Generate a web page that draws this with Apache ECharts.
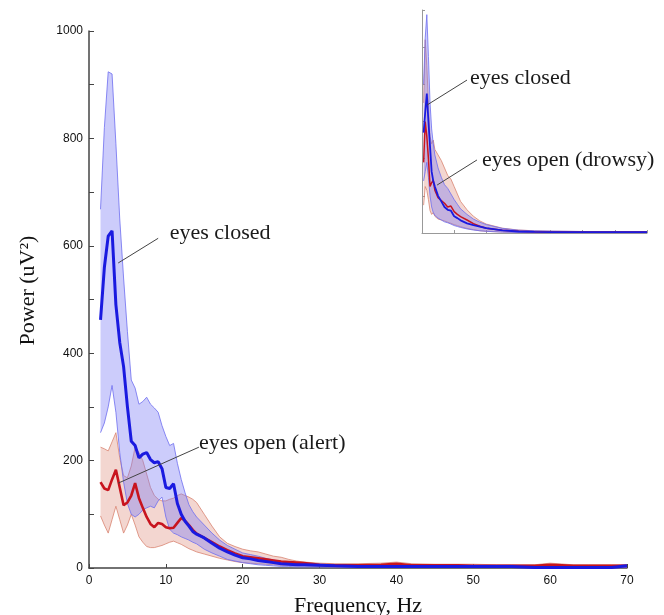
<!DOCTYPE html>
<html>
<head>
<meta charset="utf-8">
<script src="https://cdn.jsdelivr.net/npm/echarts@6/dist/echarts.min.js"></script>
<style>
html, body { margin: 0; padding: 0; background: #fff; }
#chart { width: 664px; height: 615px; }
</style>
</head>
<body>
<div id="chart"></div>
<script>
// main panel: eyes closed vs eyes open (alert)
var freq = [1.5, 2, 2.5, 3, 3.5, 4, 4.5, 5, 5.5, 6, 6.5, 7, 7.5, 8, 8.5, 9, 9.5, 10, 10.5, 11, 11.5, 12, 12.5, 13, 13.5, 14,
    15, 16, 17, 18, 19, 20, 21, 22, 23, 24, 25, 26, 27, 28,
    30, 32, 35, 38, 40, 42, 45, 48, 50, 53, 55, 58, 60, 63, 65, 68, 70];

var closedMean = [462, 560, 618, 628, 490, 420, 375, 300, 236, 228, 205, 212, 215, 202, 196, 198, 185, 150, 148, 157, 120, 100, 87, 78, 68, 63,
    56, 46, 37, 30, 24, 19, 17, 14, 12, 10, 8, 7, 6, 6,
    5, 4, 3, 3, 3, 3, 3, 3, 3, 3, 3, 1, 1, 1, 1, 1, 4];
var closedHigh = [668, 820, 924, 920, 790, 650, 540, 440, 350, 335, 305, 310, 318, 305, 298, 290, 265, 245, 228, 232, 195, 165, 140, 118, 105, 95,
    80, 65, 52, 42, 35, 28, 25, 22, 18, 15, 12, 10, 9, 8,
    7, 6, 5, 5, 5, 5, 5, 5, 5, 5, 5, 4, 4, 4, 4, 4, 6];
var closedLow = [252, 270, 300, 340, 290, 215, 160, 120, 100, 95, 100, 108, 112, 115, 112, 125, 132, 95, 72, 65, 62, 58, 55, 52, 48, 45,
    35, 28, 22, 16, 13, 10, 8, 6, 5, 4, 3, 3, 2, 2,
    2, 2, 1, 1, 1, 1, 1, 1, 1, 1, 1, 0, 0, 0, 0, 0, 1];

var alertMean = [160, 148, 145, 165, 183, 150, 117, 122, 135, 158, 130, 112, 95, 82, 76, 84, 82, 76, 74, 75, 84, 93, 88, 80, 71, 64,
    56, 48, 40, 33, 27, 22, 20, 18, 16, 14, 12, 11, 10, 9,
    6, 5, 5, 6, 8, 5, 5, 5, 4, 4, 4, 4, 6, 4, 4, 4, 4];
var alertHigh = [225, 222, 218, 235, 252, 205, 172, 168, 190, 225, 215, 200, 175, 150, 135, 128, 125, 125, 128, 130, 135, 138, 135, 132, 128, 122,
    100, 78, 58, 46, 40, 35, 32, 30, 26, 22, 20, 16, 13, 11,
    9, 8, 8, 9, 11, 8, 7, 7, 7, 6, 6, 6, 9, 6, 6, 6, 6];
var alertLow = [97, 80, 65, 90, 115, 90, 65, 80, 100, 80, 58, 48, 40, 38, 38, 40, 42, 45, 48, 50, 47, 44, 40, 36, 33, 30,
    26, 22, 18, 15, 12, 10, 9, 8, 7, 6, 5, 5, 4, 4,
    3, 2, 2, 2, 3, 2, 2, 2, 2, 2, 2, 2, 3, 2, 2, 2, 2];

// inset: eyes closed vs eyes open (drowsy)
var insetFreq = [0.5, 1, 1.5, 2, 2.5, 3, 3.5, 4, 5, 6, 7, 8, 9, 10, 11, 12, 14, 16, 18, 20, 25, 30, 35, 40, 50, 60, 70];
var insetClosedMean = [540, 650, 750, 600, 465, 330, 280, 250, 200, 170, 140, 125, 120, 90, 80, 68, 52, 42, 34, 26, 14, 8, 6, 5, 5, 5, 5];
var insetClosedHigh = [800, 1050, 1175, 950, 700, 560, 480, 420, 350, 300, 260, 240, 210, 180, 155, 130, 100, 75, 58, 45, 25, 15, 12, 10, 8, 8, 8];
var insetClosedLow = [280, 330, 380, 300, 200, 140, 110, 95, 80, 70, 60, 55, 48, 40, 35, 30, 22, 16, 12, 9, 5, 3, 2, 2, 2, 2, 2];
var insetDrowsyMean = [380, 600, 520, 400, 250, 270, 285, 230, 190, 175, 160, 140, 145, 115, 100, 88, 70, 50, 36, 26, 15, 9, 7, 6, 5, 5, 5];
var insetDrowsyHigh = [700, 1040, 900, 700, 520, 480, 500, 450, 420, 390, 350, 310, 290, 250, 210, 170, 125, 90, 65, 48, 26, 16, 12, 10, 8, 8, 8];
var insetDrowsyLow = [150, 250, 230, 180, 120, 100, 110, 90, 75, 70, 65, 58, 52, 45, 40, 34, 25, 18, 12, 9, 5, 3, 2, 2, 2, 2, 2];

// annotations, anchored in data coords: [grid, text, line start, line end, text anchor]
var notes = [
    [0, 'eyes closed', [3.8, 568], [9.0, 614], [10.5, 624]],
    [0, 'eyes open (alert)', [3.8, 158], [14.3, 225], [14.3, 233]],
    [1, 'eyes closed', [1.6, 689], [14.0, 823], [14.9, 834]],
    [1, 'eyes open (drowsy)', [4.7, 258], [17.1, 393], [18.7, 393]]
];

var BLUE = '#1a1ae0';
var RED = '#c8141e';
var serif = '"Liberation Serif", "Times New Roman", serif';

function pairs(xs, ys) {
    return xs.map(function (x, i) { return [x, ys[i]]; });
}

// shaded band between lo and hi, drawn once as a polygon through the axes
function band(grid, xs, lo, hi, edge, fill) {
    return {
        type: 'custom', xAxisIndex: grid, yAxisIndex: grid, silent: true, z: 1,
        data: xs.map(function (x, i) { return [x, lo[i], hi[i]]; }),
        encode: { x: 0, y: [1, 2] },
        renderItem: function (params, api) {
            if (params.dataIndex !== 0) return;
            var top = xs.map(function (x, i) { return api.coord([x, hi[i]]); });
            var bottom = xs.map(function (x, i) { return api.coord([x, lo[i]]); });
            return {
                type: 'group',
                children: [
                    { type: 'polygon', shape: { points: top.concat(bottom.slice().reverse()) }, style: { fill: fill } },
                    { type: 'polyline', shape: { points: top }, style: { stroke: edge, lineWidth: 1, fill: null } },
                    { type: 'polyline', shape: { points: bottom }, style: { stroke: edge, lineWidth: 1, fill: null } }
                ]
            };
        }
    };
}

function mean(grid, xs, ys, color, width, z) {
    return { type: 'line', xAxisIndex: grid, yAxisIndex: grid, data: pairs(xs, ys), symbol: 'none', silent: true,
        lineStyle: { color: color, width: width }, z: z };
}

var redEdge = 'rgba(215,125,105,0.75)', redFill = 'rgba(215,120,100,0.30)';
var blueEdge = 'rgba(110,110,240,0.8)', blueFill = 'rgba(120,120,245,0.38)';

var series = [
    band(0, freq, alertLow, alertHigh, redEdge, redFill),
    band(0, freq, closedLow, closedHigh, blueEdge, blueFill),
    mean(0, freq, alertMean, RED, 2.6, 3),
    mean(0, freq, closedMean, BLUE, 3, 4),
    band(1, insetFreq, insetDrowsyLow, insetDrowsyHigh, redEdge, redFill),
    band(1, insetFreq, insetClosedLow, insetClosedHigh, blueEdge, blueFill),
    mean(1, insetFreq, insetDrowsyMean, RED, 1.5, 3),
    mean(1, insetFreq, insetClosedMean, BLUE, 1.8, 4)
];

var chart = echarts.init(document.getElementById('chart'));

var option = {
    animation: false,
    backgroundColor: '#fff',
    grid: [
        { left: 89, right: 37, top: 31, bottom: 47, outerBoundsMode: 'none' },
        { left: 422, right: 17, top: 10, bottom: 382, outerBoundsMode: 'none' }
    ],
    xAxis: [
        {
            type: 'value', gridIndex: 0, min: 0, max: 70, interval: 10,
            axisLine: { show: true, lineStyle: { color: '#444', width: 1.5 } },
            axisTick: { show: true, inside: true, length: 4, lineStyle: { color: '#444' } },
            axisLabel: { color: '#111', fontSize: 12, margin: 7, fontFamily: '"Liberation Sans Narrow", "Liberation Sans", Arial' },
            splitLine: { show: false },
            name: 'Frequency, Hz', nameLocation: 'middle', nameGap: 27,
            nameTextStyle: { fontFamily: serif, fontSize: 22, color: '#111' }
        },
        {
            type: 'value', gridIndex: 1, min: 0, max: 70, interval: 10,
            axisLine: { show: true, lineStyle: { color: '#999', width: 1 } },
            axisTick: { show: true, inside: true, length: 3, lineStyle: { color: '#999' } },
            axisLabel: { show: false },
            splitLine: { show: false }
        }
    ],
    yAxis: [
        {
            type: 'value', gridIndex: 0, min: 0, max: 1000, interval: 100,
            axisLine: { show: true, lineStyle: { color: '#444', width: 1.5 } },
            axisTick: { show: true, inside: true, length: 5, lineStyle: { color: '#444' } },
            axisLabel: {
                color: '#111', fontSize: 12, margin: 6, fontFamily: '"Liberation Sans Narrow", "Liberation Sans", Arial',
                formatter: function (v) { return v % 200 === 0 ? String(v) : ''; }
            },
            splitLine: { show: false },
            name: 'Power (uV²)', nameLocation: 'middle', nameGap: 50,
            nameTextStyle: { fontFamily: serif, fontSize: 22, color: '#111', padding: [0, 0, 0, 18] }
        },
        {
            type: 'value', gridIndex: 1, min: 0, max: 1200, interval: 200,
            axisLine: { show: true, lineStyle: { color: '#999', width: 1 } },
            axisTick: { show: true, inside: true, length: 3, lineStyle: { color: '#999' } },
            axisLabel: { show: false },
            splitLine: { show: false }
        }
    ],
    series: series
};

chart.setOption(option);

// leader lines + labels
var g = [];
notes.forEach(function (n) {
    var a = chart.convertToPixel({ gridIndex: n[0] }, n[2]);
    var b = chart.convertToPixel({ gridIndex: n[0] }, n[3]);
    var c = chart.convertToPixel({ gridIndex: n[0] }, n[4]);
    g.push({ type: 'line', silent: true, z: 10, shape: { x1: a[0], y1: a[1], x2: b[0], y2: b[1] },
        style: { stroke: '#444', lineWidth: 1 } });
    g.push({ type: 'text', silent: true, z: 10, x: c[0], y: c[1],
        style: { text: n[1], fontFamily: serif, fontSize: 22, fill: '#1a1a1a', align: 'left', verticalAlign: 'middle' } });
});
chart.setOption({ graphic: g });
</script>
</body>
</html>
